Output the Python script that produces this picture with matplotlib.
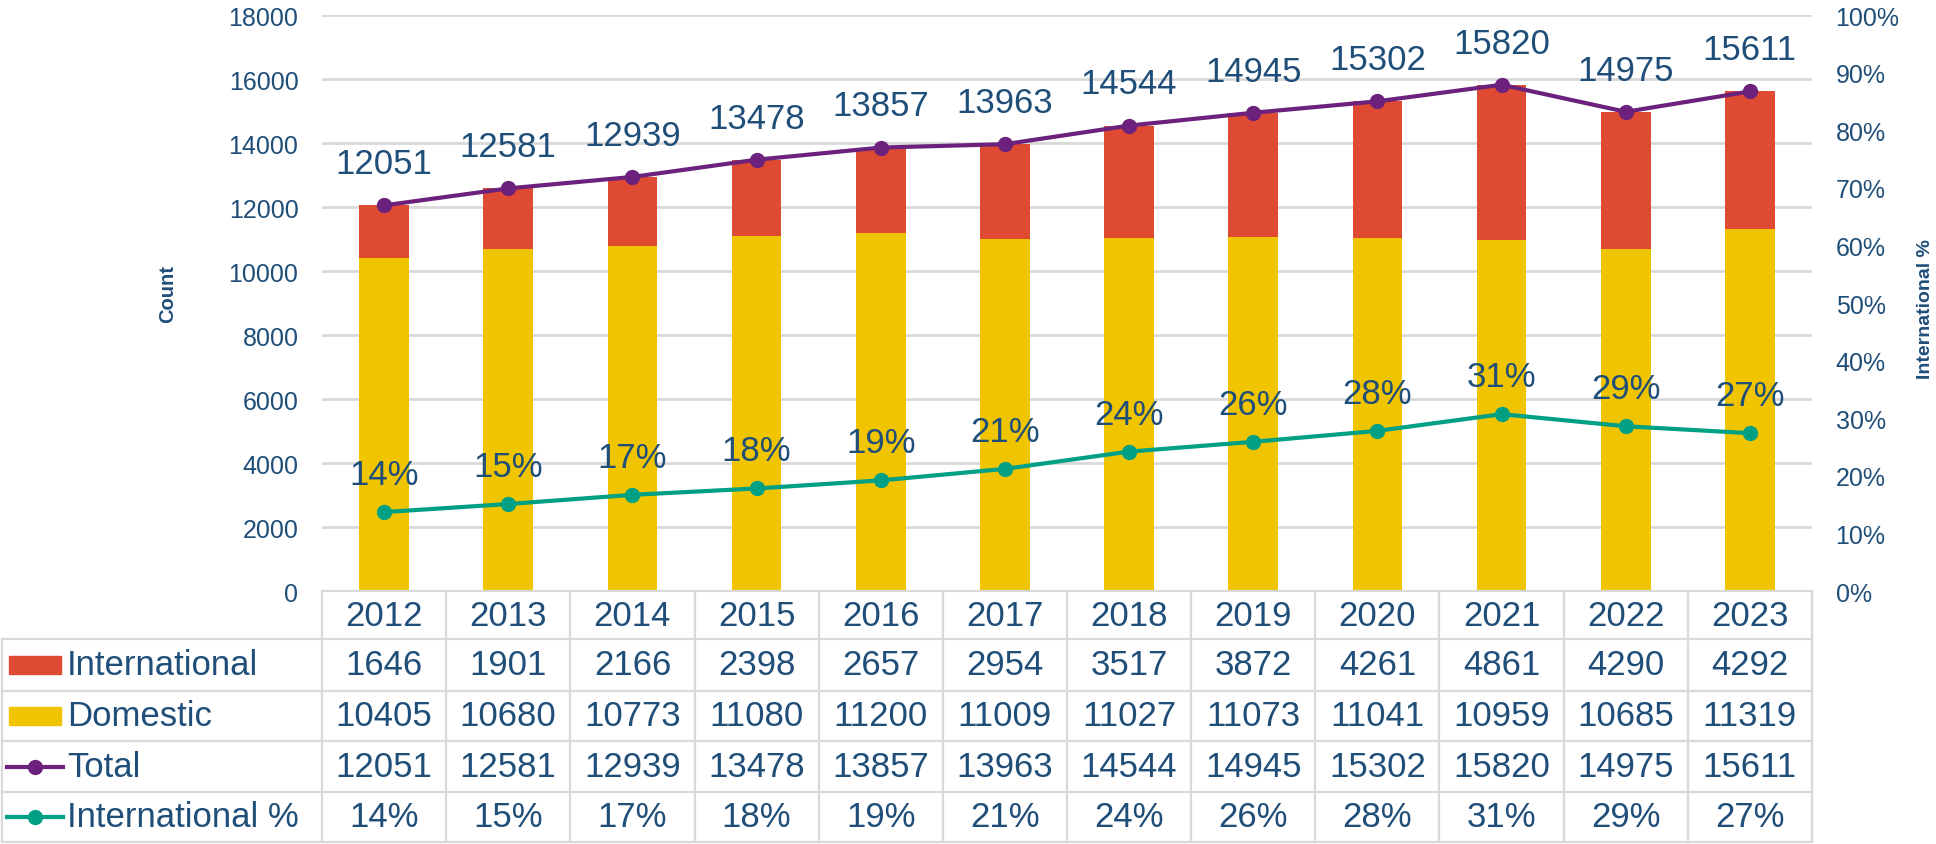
import matplotlib
matplotlib.use("Agg")
import matplotlib.pyplot as plt
from matplotlib.transforms import blended_transform_factory
from matplotlib.patches import Rectangle
from matplotlib.lines import Line2D

plt.rcParams['font.family'] = ['Liberation Sans', 'DejaVu Sans']

years = ['2012', '2013', '2014', '2015', '2016', '2017', '2018', '2019', '2020', '2021', '2022', '2023']
international = [1646, 1901, 2166, 2398, 2657, 2954, 3517, 3872, 4261, 4861, 4290, 4292]
domestic = [10405, 10680, 10773, 11080, 11200, 11009, 11027, 11073, 11041, 10959, 10685, 11319]
total = [12051, 12581, 12939, 13478, 13857, 13963, 14544, 14945, 15302, 15820, 14975, 15611]
intl_pct = [13.7, 15.1, 16.7, 17.8, 19.2, 21.2, 24.2, 25.9, 27.8, 30.7, 28.6, 27.4]

TXT = '#1F4E79'
RED = '#DF4A33'
YEL = '#F0C500'
PUR = '#6C227C'
TEAL = '#00A085'
GRID = '#D9D9D9'

fig = plt.figure(figsize=(19.36, 8.45), dpi=100)
W, H = 1936, 845
ax = fig.add_axes([322 / W, 1 - 592 / H, (1812 - 322) / W, 576 / H])
ax2 = ax.twinx()

x = list(range(len(years)))
ax.bar(x, domestic, width=0.4, color=YEL, zorder=2)
ax.bar(x, international, width=0.4, bottom=domestic, color=RED, zorder=2)
ax.plot(x, total, color=PUR, lw=3, marker='o', ms=10, zorder=3)
for i, v in enumerate(total):
    ax.annotate(str(v), (i, v), xytext=(0, 30), textcoords='offset points',
                ha='center', va='center', fontsize=25, color=TXT)

ax2.plot(x, intl_pct, color=TEAL, lw=3, marker='o', ms=10, zorder=3)
for i, v in enumerate(intl_pct):
    ax2.annotate('%d%%' % round(v), (i, v), xytext=(0, 27), textcoords='offset points',
                 ha='center', va='center', fontsize=25, color=TXT)

ax.set_xlim(-0.5, len(years) - 0.5)
ax.set_ylim(0, 18000)
ax.set_yticks(range(0, 18001, 2000))
ax2.set_ylim(0, 100)
ax2.set_yticks(range(0, 101, 10))
ax2.set_yticklabels(['%d%%' % t for t in range(0, 101, 10)])
ax.set_xticks([])
ax.yaxis.grid(True, color=GRID, lw=2)
ax.set_axisbelow(True)
for a in (ax, ax2):
    for s in a.spines.values():
        s.set_visible(False)
    a.tick_params(axis='y', length=0, pad=17, labelsize=18, labelcolor=TXT)

fig.text(168 / W, 1 - 294 / H, 'Count', rotation=90, ha='center', va='center',
         fontsize=14.5, fontweight='bold', color=TXT)
fig.text(1925 / W, 1 - 309 / H, 'International %', rotation=90, ha='center', va='center',
         fontsize=14, fontweight='bold', color=TXT)

# data table below the plot
tr = blended_transform_factory(ax.transData, fig.transFigure)
ftr = fig.transFigure
row_edges = [592, 640, 692, 742, 793, 843]
fy = [1 - r / H for r in row_edges]
n = len(years)
lkw = dict(color=GRID, lw=1.6, clip_on=False)

# horizontal lines
fig.add_artist(Line2D([-0.5, n - 0.5], [fy[0], fy[0]], transform=tr, **lkw))
for yy in fy[1:]:
    fig.add_artist(Line2D([2 / W, 1812 / W], [yy, yy], transform=ftr, **lkw))
# vertical lines
for k in range(n + 1):
    fig.add_artist(Line2D([k - 0.5, k - 0.5], [fy[0], fy[-1]], transform=tr, **lkw))
fig.add_artist(Line2D([2 / W, 2 / W], [fy[1], fy[-1]], transform=ftr, **lkw))

rows = [international, domestic, total, ['%d%%' % round(p) for p in intl_pct]]
names = ['International', 'Domestic', 'Total', 'International %']
for i, yr in enumerate(years):
    fig.text(i, (fy[0] + fy[1]) / 2, yr, transform=tr, ha='center', va='center',
             fontsize=25, color=TXT)
for r, vals in enumerate(rows):
    yc = (fy[r + 1] + fy[r + 2]) / 2
    for i, v in enumerate(vals):
        fig.text(i, yc, str(v), transform=tr, ha='center', va='center',
                 fontsize=25, color=TXT)
    fig.text(67 / W, yc, names[r], ha='left', va='center', fontsize=25, color=TXT)

# legend keys in the table
for r, col in enumerate([RED, YEL]):
    yc = (fy[r + 1] + fy[r + 2]) / 2
    fig.add_artist(Rectangle((9 / W, yc - 9 / H), 52 / W, 18 / H, transform=ftr,
                             color=col, clip_on=False))
for r, col in [(2, PUR), (3, TEAL)]:
    yc = (fy[r + 1] + fy[r + 2]) / 2
    fig.add_artist(Line2D([7 / W, 63 / W], [yc, yc], transform=ftr, color=col, lw=3))
    fig.add_artist(Line2D([35 / W], [yc], transform=ftr, color=col, marker='o', ms=10))

fig.savefig('out.png', dpi=100)
